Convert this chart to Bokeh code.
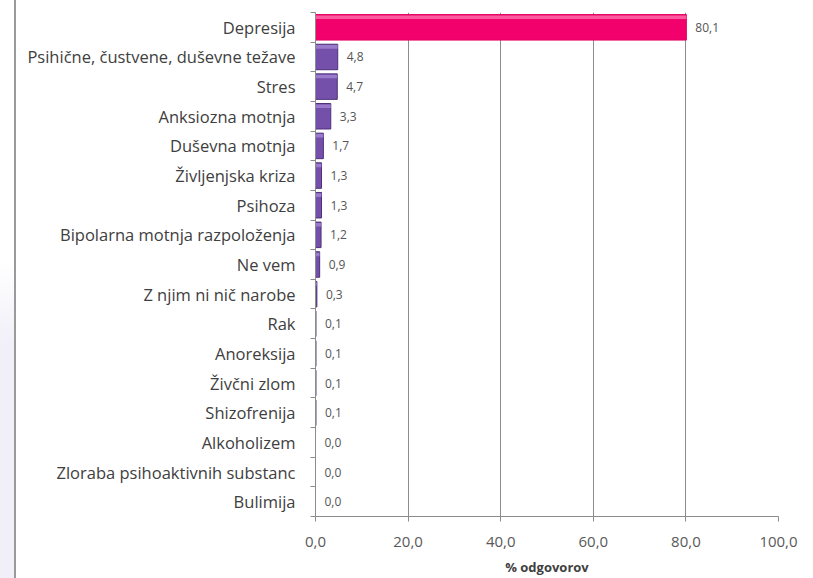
from bokeh.plotting import figure
from bokeh.models import ColumnDataSource, FixedTicker, LabelSet, Div
from bokeh.core.properties import value
from bokeh.layouts import row
from bokeh.embed import file_html
from bokeh.resources import INLINE

categories = [
    "Depresija",
    "Psihične, čustvene, duševne težave",
    "Stres",
    "Anksiozna motnja",
    "Duševna motnja",
    "Življenjska kriza",
    "Psihoza",
    "Bipolarna motnja razpoloženja",
    "Ne vem",
    "Z njim ni nič narobe",
    "Rak",
    "Anoreksija",
    "Živčni zlom",
    "Shizofrenija",
    "Alkoholizem",
    "Zloraba psihoaktivnih substanc",
    "Bulimija",
]
values = [80.1, 4.8, 4.7, 3.3, 1.7, 1.3, 1.3, 1.2, 0.9, 0.3, 0.1, 0.1, 0.1, 0.1, 0.0, 0.0, 0.0]
x_ticks = [0, 20, 40, 60, 80, 100]

FONT = "Open Sans"
BAR_H = 0.86
n = len(categories)
ypos = [n - 1 - i for i in range(n)]
labels = [f"{v:.1f}".replace(".", ",") for v in values]
fills = ["#F2006B" if i == 0 else "#7550AA" for i in range(n)]
edges = ["#E0005F" if i == 0 else "#4E2F7A" for i in range(n)]
shines = ["#FF78B0" if i == 0 else "#A588D6" for i in range(n)]

src = ColumnDataSource(dict(y=ypos, v=values, lab=labels, fill=fills, edge=edges, shine=shines,
                            y_shine=[y + BAR_H / 2 - 0.09 for y in ypos]))

p = figure(width=797, height=578, output_backend="svg", toolbar_location=None,
           x_range=(0, 100), y_range=(-0.5, n - 0.5),
           min_border_left=299, min_border_right=35, min_border_top=12, min_border_bottom=61)
p.outline_line_color = None
p.background_fill_color = "white"
p.border_fill_color = "white"

# bars with a lighter band along the top edge
p.hbar(y="y", right="v", left=0, height=BAR_H, source=src,
       fill_color="fill", line_color="edge", line_width=1)
p.hbar(y="y_shine", right="v", left=0, height=0.12, source=src,
       fill_color="shine", fill_alpha=0.75, line_color=None)

p.add_layout(LabelSet(x="v", y="y", text="lab", source=src, x_offset=9,
                      text_baseline="middle", text_font=value(FONT),
                      text_font_size="12px", text_color="#555555"))

# x axis
p.xaxis.ticker = FixedTicker(ticks=x_ticks)
p.xaxis.major_label_overrides = {t: f"{t:.1f}".replace(".", ",") for t in x_ticks}
p.xaxis.axis_label = "% odgovorov"
p.xaxis.axis_label_text_font = FONT
p.xaxis.axis_label_text_font_style = "bold"
p.xaxis.axis_label_text_font_size = "13px"
p.xaxis.axis_label_text_color = "#404040"
p.xaxis.axis_label_standoff = 8
p.xaxis.major_label_text_font = FONT
p.xaxis.major_label_text_font_size = "15px"
p.xaxis.major_label_text_color = "#595959"
p.xaxis.major_label_standoff = 15
p.xaxis.axis_line_color = "#8C8C8C"
p.xaxis.major_tick_line_color = "#8C8C8C"
p.xaxis.major_tick_out = 5
p.xaxis.major_tick_in = 0
p.xaxis.minor_tick_line_color = None

# y axis: labels at bar centres, small ticks at category boundaries
p.yaxis.ticker = FixedTicker(ticks=ypos, minor_ticks=[k + 0.5 for k in range(-1, n)])
p.yaxis.major_label_overrides = {y: c for y, c in zip(ypos, categories)}
p.yaxis.major_label_text_font = FONT
p.yaxis.major_label_text_font_size = "16.5px"
p.yaxis.major_label_text_color = "#404040"
p.yaxis.major_label_standoff = 14
p.yaxis.axis_line_color = "#8C8C8C"
p.yaxis.major_tick_line_color = None
p.yaxis.minor_tick_line_color = "#8C8C8C"
p.yaxis.minor_tick_out = 5
p.yaxis.minor_tick_in = 0

p.xgrid.grid_line_color = "#8C8C8C"
p.xgrid.grid_line_width = 1
p.ygrid.grid_line_color = None

# page frame line on the left edge
edge = Div(width=16, height=578, styles={
    "background": "linear-gradient(to bottom, #ffffff 0%, #ffffff 45%, #f1eff8 60%, #f1eff8 100%)",
    "border-right": "2px solid #9A9A9A", "box-sizing": "border-box",
    "margin": "0", "padding": "0"})

open("out.html", "w").write(file_html(row(edge, p, spacing=0), INLINE))
